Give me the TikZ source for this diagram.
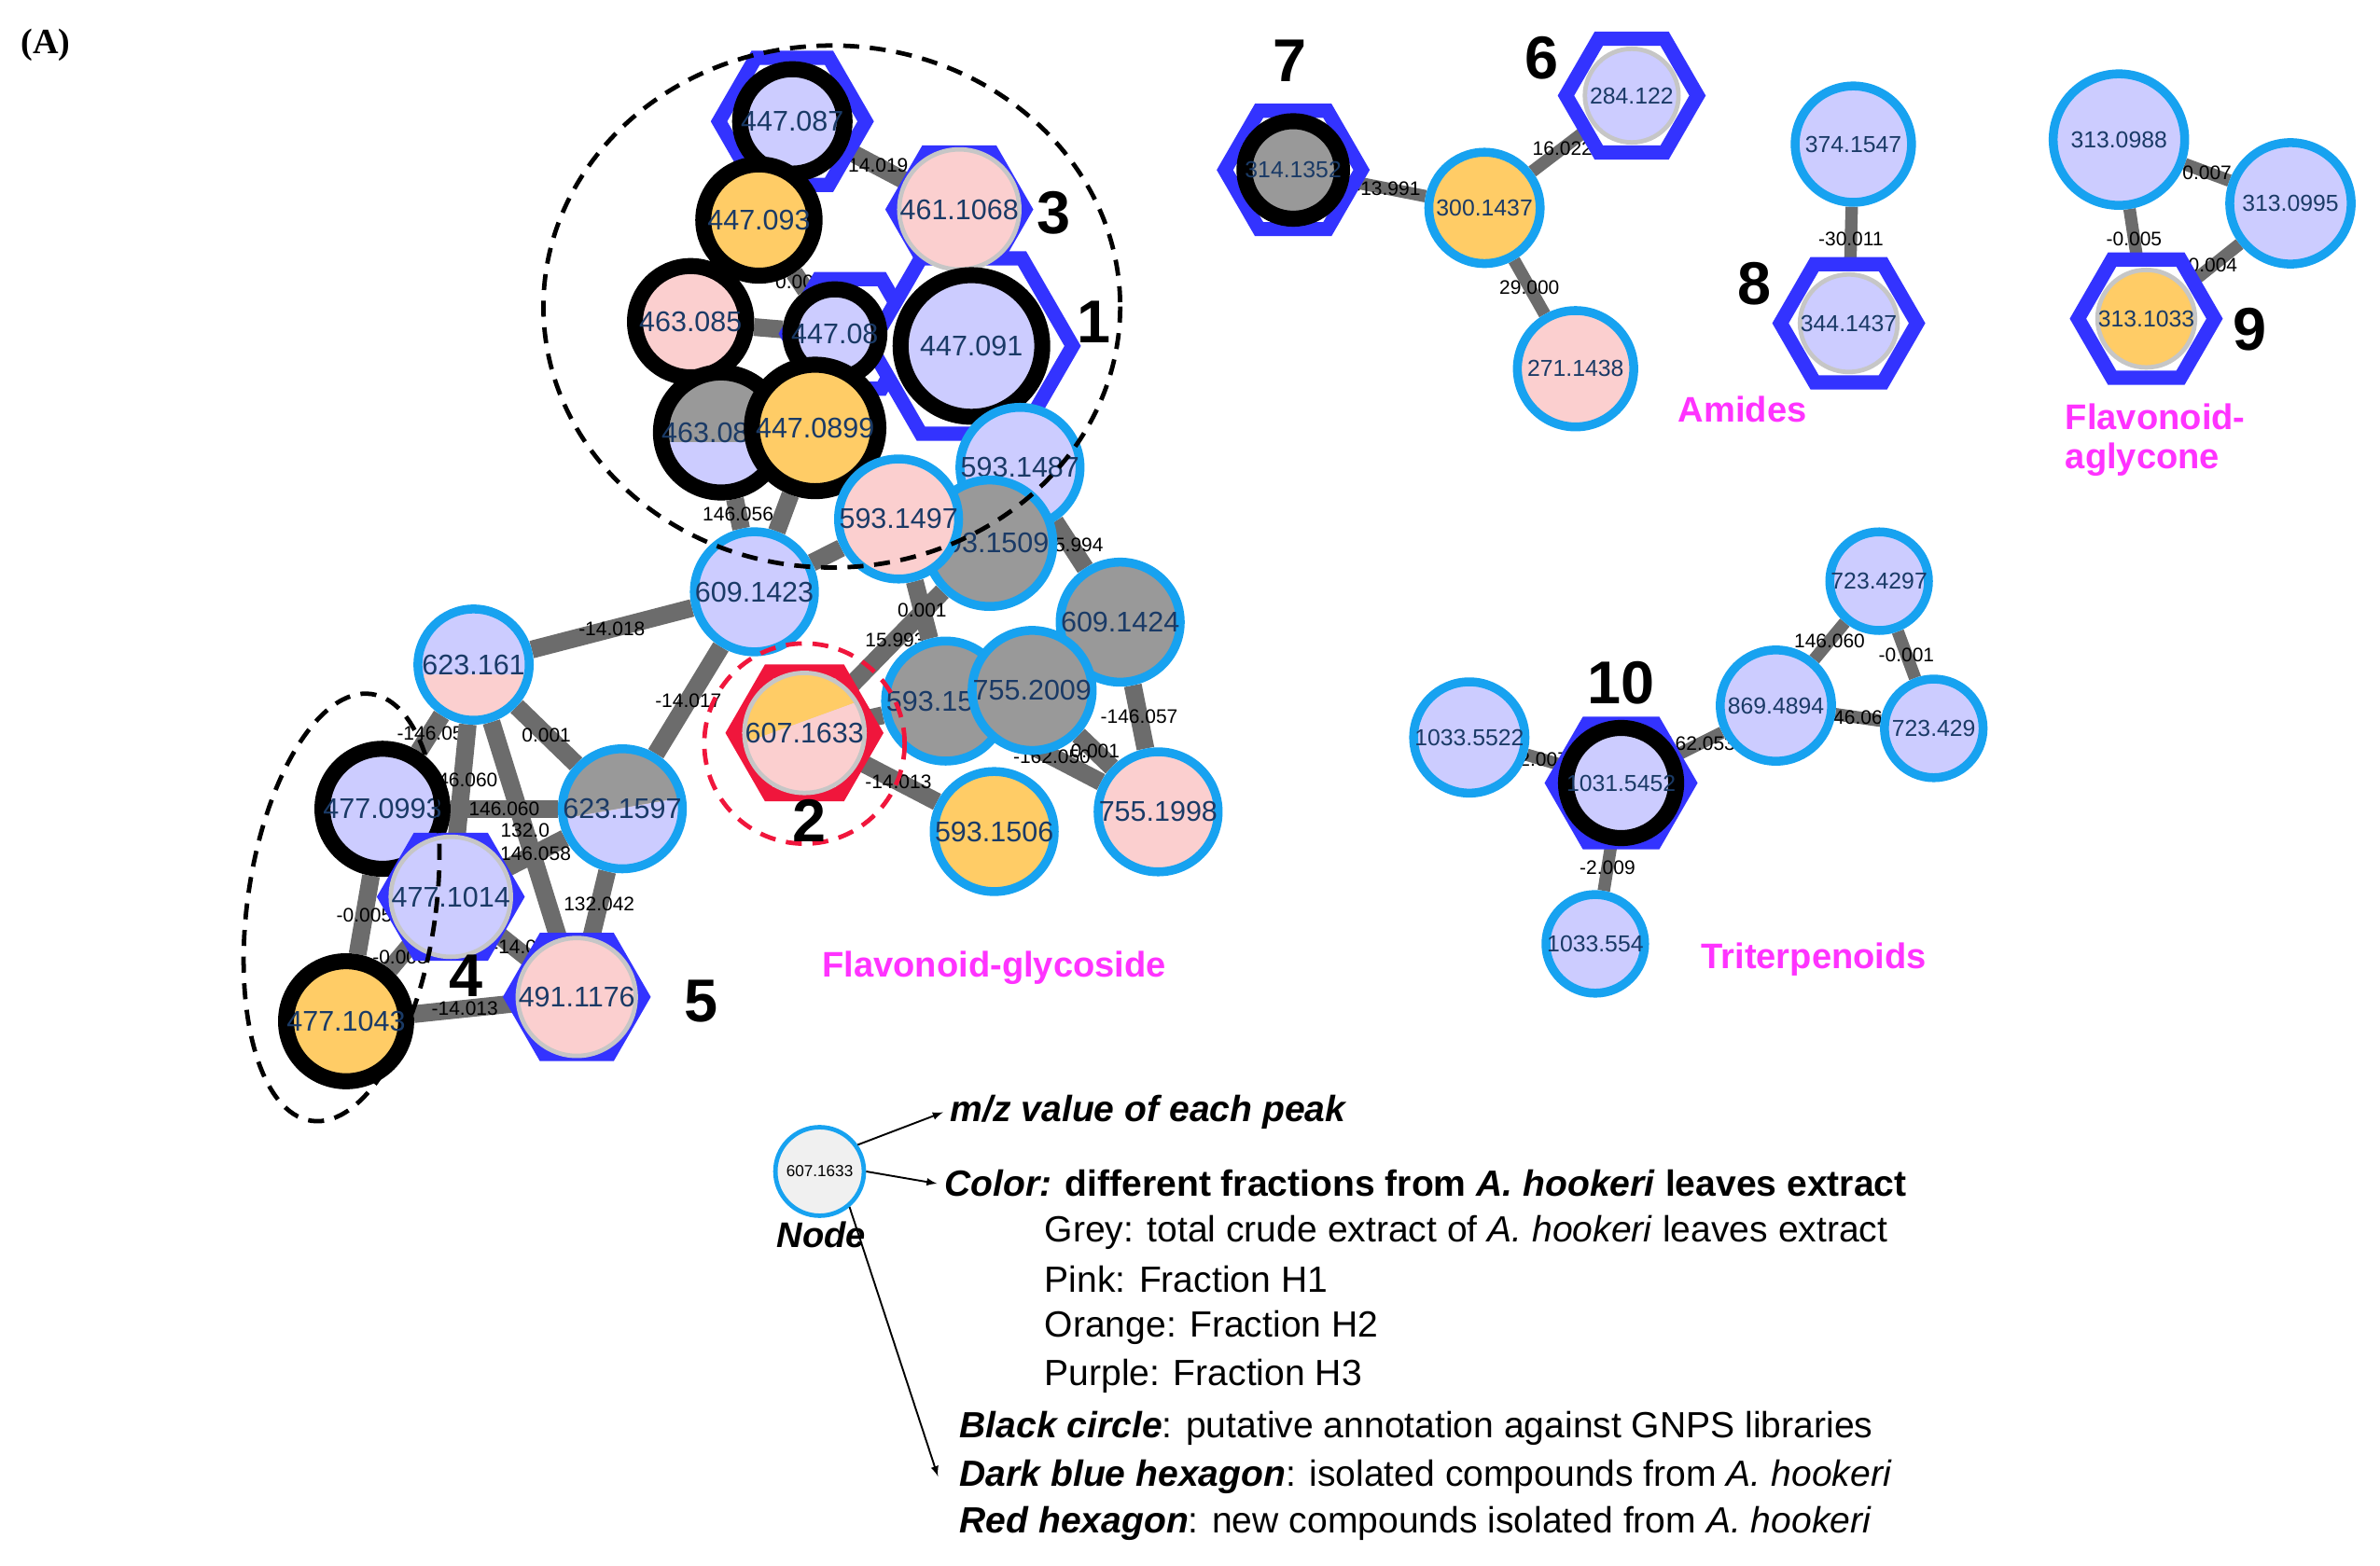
\documentclass[tikz,border=0pt]{standalone}
\usepackage{fontspec}
\setmainfont{Liberation Sans}
\newfontfamily\serifA{Liberation Serif}
\usetikzlibrary{shapes.geometric}
\usetikzlibrary{arrows}
\usetikzlibrary{backgrounds}
\definecolor{cpurple}{HTML}{CCCCFF}
\definecolor{cpink}{HTML}{FBCFCF}
\definecolor{corange}{HTML}{FFCC66}
\definecolor{cgrey}{HTML}{999999}
\definecolor{ringblue}{HTML}{17A2F0}
\definecolor{hexblue}{HTML}{3333FF}
\definecolor{hexred}{HTML}{F0163C}
\definecolor{labnavy}{HTML}{1A3A66}
\definecolor{cmag}{HTML}{FF33FF}
\newcommand{\wedgefill}[3]{\fill[#1,shift={(path picture bounding box.center)}] (0,0) -- (#2:3cm) -- ({(#2+#3)/2}:4cm) -- (#3:3cm) -- cycle;}

\tikzset{
  cmp/.style={circle, minimum size=2.2cm, inner sep=0pt, fill=#1, draw=gray!45, line width=2.5pt,
    text=labnavy, font=\fontsize{16}{16}\selectfont},
  blu/.style={draw=ringblue, line width=5pt},
  blk/.style={draw=black, line width=9pt},
  sml/.style={minimum size=1.95cm, font=\fontsize{13}{13}\selectfont},
  hex/.style={regular polygon, regular polygon sides=6, draw=#1, line width=8pt, fill=white,
    minimum size=2.6cm, inner sep=0pt},
  edge/.style={draw=gray!85!black, line width=10pt},
  elab/.style={font=\fontsize{11}{11}\selectfont, inner sep=1pt},
  num/.style={font=\fontsize{34}{34}\selectfont\bfseries},
  cls/.style={font=\fontsize{20}{22}\selectfont\bfseries, text=cmag, align=left},
  legt/.style={anchor=west, font=\fontsize{20.5}{20.5}\selectfont, inner sep=0pt},
  grpmark/.style={draw=black, line width=2.5pt, dash pattern=on 9pt off 6pt}
}

\begin{document}
\begin{tikzpicture}[x=0.03cm, y=-0.03cm]
\useasboundingbox (0,0) rectangle (1568,1032);
\node[font=\fontsize{20}{20}\selectfont\bfseries\serifA] (panel) at (30,30) {(A)};

% main cluster, upper group
\node[hex=hexblue, minimum size=2.9cm] (h447087) at (522,80) {};
\node[hex=hexblue] (h461106) at (632,138) {};
\node[hex=hexblue, minimum size=2.5cm] (h447080) at (560,220) {};
\node[hex=hexblue, minimum size=4cm] (h447091) at (640,228) {};
\node[cmp=cpurple, blk, minimum size=1.8cm] (m447087) at (h447087) {447.087};
\node[cmp=corange, blk] (m447093) at (500,145) {447.093};
\node[cmp=cpink] (m461106) at (h461106) {461.1068};
\node[cmp=cpink, blk] (m463085) at (455,212) {463.085};
\node[cmp=cpurple, blk, minimum size=1.75cm] (m447080) at (550,220) {447.08};
\node[cmp=cpurple, blk, minimum size=2.8cm] (m447091) at (640,228) {447.091};
\node[cmp=cgrey, blk, path picture={\wedgefill{cpurple}{180}{360}}] (m463086) at (475,285) {463.0861};
\node[cmp=corange, blk, minimum size=2.5cm] (m447089) at (537,282) {447.0899};
\node[cmp=cpurple, blu] (m593148) at (672,308) {593.1487};
\node[cmp=cgrey, blu, minimum size=2.5cm] (m593150) at (652,358) {593.1509};
\node[cmp=cpink, blu, minimum size=2.3cm] (m593149) at (592,342) {593.1497};

% main cluster, lower group
\node[cmp=cpurple, blu] (m609142) at (497,390) {609.1423};
\node[cmp=cgrey, blu] (m609424) at (738,410) {609.1424};
\node[cmp=cgrey, blu] (m593151) at (623,462) {593.1510};
\node[cmp=cgrey, blu] (m755200) at (680,455) {755.2009};
\node[cmp=cpink, blu] (m755199) at (763,535) {755.1998};
\node[cmp=corange, blu] (m593156) at (655,548) {593.1506};
\node[hex=hexred, minimum size=2.8cm] (h607163) at (530,483) {};
\node[cmp=cpurple, minimum size=1.85cm, path picture={\wedgefill{corange}{20}{110}\wedgefill{cpink}{-80}{20}}] (m607163) at (h607163) {607.1633};
\node[cmp=cpurple, blu, path picture={\wedgefill{cpink}{180}{360}}] (m623161) at (312,438) {623.161};
\node[cmp=corange, blu, path picture={\wedgefill{cgrey}{10}{110}\wedgefill{cpurple}{-70}{10}}] (m623159) at (410,533) {623.1597};
\node[cmp=cpurple, blk] (m477099) at (252,533) {477.0993};
\node[hex=hexblue] (h477101) at (297,591) {};
\node[cmp=cpurple, minimum size=1.9cm] (m477101) at (h477101) {477.1014};
\node[cmp=corange, blk] (m477104) at (228,673) {477.1043};
\node[hex=hexblue] (h491117) at (380,657) {};
\node[cmp=cpink, minimum size=1.9cm] (m491117) at (h491117) {491.1176};

\begin{scope}[on background layer]
\foreach \a/\b/\l in {m447087/m461106/-14.019, m447093/m447087/, m447093/m447080/0.001,
  m463085/m447080/, m461106/m447091/, m447093/m463085/, m463085/m463086/,
  m463086/m447089/, m447089/m447080/, m447089/m593149/, m463086/m609142/146.056,
  m447089/m609142/, m593149/m609142/, m593149/m593150/, m593148/m609424/-15.994,
  m609142/m623161/-14.018, m609142/m623159/-14.017, m593150/m607163/15.993,
  m593149/m593151/0.001, m607163/m593151/, m607163/m593156/-14.013,
  m593151/m755200/, m609424/m755200/, m609424/m755199/-146.057, m755200/m755199/0.001,
  m593151/m755199/-162.050, m623161/m477099/-146.05, m623161/m623159/0.001,
  m623161/m477101/146.060, m623161/m491117/132.0, m477099/m623159/146.060,
  m477101/m623159/146.058, m623159/m491117/132.042, m477099/m477104/-0.005,
  m477101/m477104/-0.003, m477101/m491117/-14.0, m477104/m491117/-14.013}
  \draw[edge] (\a) -- node[elab] {\l} (\b);
\end{scope}

% group marks
\draw[grpmark] (548,202) ellipse [x radius=190, y radius=172];
\draw[grpmark, rotate around={-8:(225,598)}] (225,598) ellipse [x radius=62, y radius=142];
\draw[grpmark, draw=hexred] (530,490) circle [radius=66];
\node[num] (g1) at (721,212) {1};
\node[num] (g2) at (533,541) {2};
\node[num] (g3) at (694,140) {3};
\node[num] (g4) at (307,643) {4};
\node[num] (g5) at (462,660) {5};
\node[cls] (fg) at (655,638) {Flavonoid-glycoside};

% amides
\node[hex=hexblue, minimum size=2.7cm] (h314135) at (852,112) {};
\node[cmp=cgrey, blk, sml, minimum size=1.85cm] (m314135) at (h314135) {314.1352};
\node[cmp=corange, blu, sml, minimum size=2.2cm] (m300143) at (978,137) {300.1437};
\node[hex=hexblue, minimum size=2.6cm] (h284122) at (1075,63) {};
\node[cmp=cpurple, sml, minimum size=1.85cm] (m284122) at (h284122) {284.122};
\node[cmp=cpink, blu, sml, minimum size=2.3cm] (m271143) at (1038,243) {271.1438};
\node[num] (g7) at (850,40) {7};
\node[num] (g6) at (1016,38) {6};
\node[cls] (am) at (1148,270) {Amides};
\node[cmp=cpurple, blu, sml, minimum size=2.3cm] (m374154) at (1221,95) {374.1547};
\node[hex=hexblue, minimum size=2.7cm] (h344143) at (1218,213) {};
\node[cmp=cpurple, sml, minimum size=1.85cm] (m344143) at (h344143) {344.1437};
\node[num] (g8) at (1156,187) {8};
\node[cmp=cpurple, blu, sml, minimum size=2.6cm] (m313098) at (1396,92) {313.0988};
\node[cmp=cpurple, blu, sml, minimum size=2.4cm] (m313099) at (1509,134) {313.0995};
\node[hex=hexblue, minimum size=2.7cm] (h313103) at (1414,210) {};
\node[cmp=corange, sml, minimum size=1.85cm] (m313103) at (h313103) {313.1033};
\node[num] (g9) at (1482,217) {9};
\node[cls] (fa) at (1420,290) {Flavonoid-\\aglycone};

% triterpenoids
\node[cmp=cpurple, blu, sml] (m723429a) at (1238,383) {723.4297};
\node[cmp=cpurple, blu, sml, minimum size=2.2cm] (m869489) at (1170,465) {869.4894};
\node[cmp=cpurple, blu, sml] (m723429b) at (1274,480) {723.429};
\node[cmp=cpurple, blu, sml, minimum size=2.2cm] (m103355a) at (968,486) {1033.5522};
\node[hex=hexblue, minimum size=2.7cm] (h103154) at (1068,516) {};
\node[cmp=cpurple, blk, sml, minimum size=1.75cm] (m103154) at (h103154) {1031.5452};
\node[cmp=cpurple, blu, sml] (m103355b) at (1051,622) {1033.554};
\node[num] (g10) at (1068,450) {10};
\node[cls] (tt) at (1195,632) {Triterpenoids};

\begin{scope}[on background layer]
\foreach \a/\b/\l in {m314135/m300143/-13.991, m300143/m284122/16.022, m300143/m271143/29.000,
  m374154/m344143/-30.011, m313098/m313099/0.007, m313098/m313103/-0.005, m313099/m313103/0.004,
  m723429a/m869489/146.060, m723429a/m723429b/-0.001, m869489/m723429b/146.067,
  m103154/m869489/162.053, m103355a/m103154/2.007, m103154/m103355b/-2.009}
  \draw[edge, line width=7pt] (\a) -- node[elab] {\l} (\b);
\end{scope}

% legend
\node[circle, minimum size=1.75cm, inner sep=0pt, fill=gray!12, draw=ringblue, line width=2.5pt,
  font=\fontsize{9}{9}\selectfont] (lg) at (540,772) {607.1633};
\node[font=\fontsize{20}{20}\selectfont\bfseries\itshape] (lgn) at (541,814) {Node};
\node[legt, font=\fontsize{20.5}{20.5}\selectfont\bfseries\itshape] (mz) at (626,733) {m/z value of each peak};
\node[legt] (col) at (622,780) {\textbf{\textit{Color:}} \textbf{different fractions from \textit{A. hookeri} leaves extract}};
\node[legt] (fr0) at (688,812) {Grey: total crude extract of \textit{A. hookeri} leaves extract};
\node[legt] (fr1) at (688,843) {Pink: Fraction H1};
\node[legt] (fr2) at (688,875) {Orange: Fraction H2};
\node[legt] (fr3) at (688,907) {Purple: Fraction H3};
\node[legt] (bc) at (632,941) {\textbf{\textit{Black circle}}: putative annotation against GNPS libraries};
\node[legt] (dbh) at (632,973) {\textbf{\textit{Dark blue hexagon}}: isolated compounds from \textit{A. hookeri}};
\node[legt] (rh) at (632,1004) {\textbf{\textit{Red hexagon}}: new compounds isolated from \textit{A. hookeri}};
\draw[-latex, line width=1pt] (lg.35) -- ([xshift=-4pt]mz.west);
\draw[-latex, line width=1pt] (lg.east) -- ([xshift=-4pt]col.west);
\draw[-latex, line width=1pt] (lg.-50) -- ([xshift=-12pt]dbh.west);
\end{tikzpicture}
\end{document}
